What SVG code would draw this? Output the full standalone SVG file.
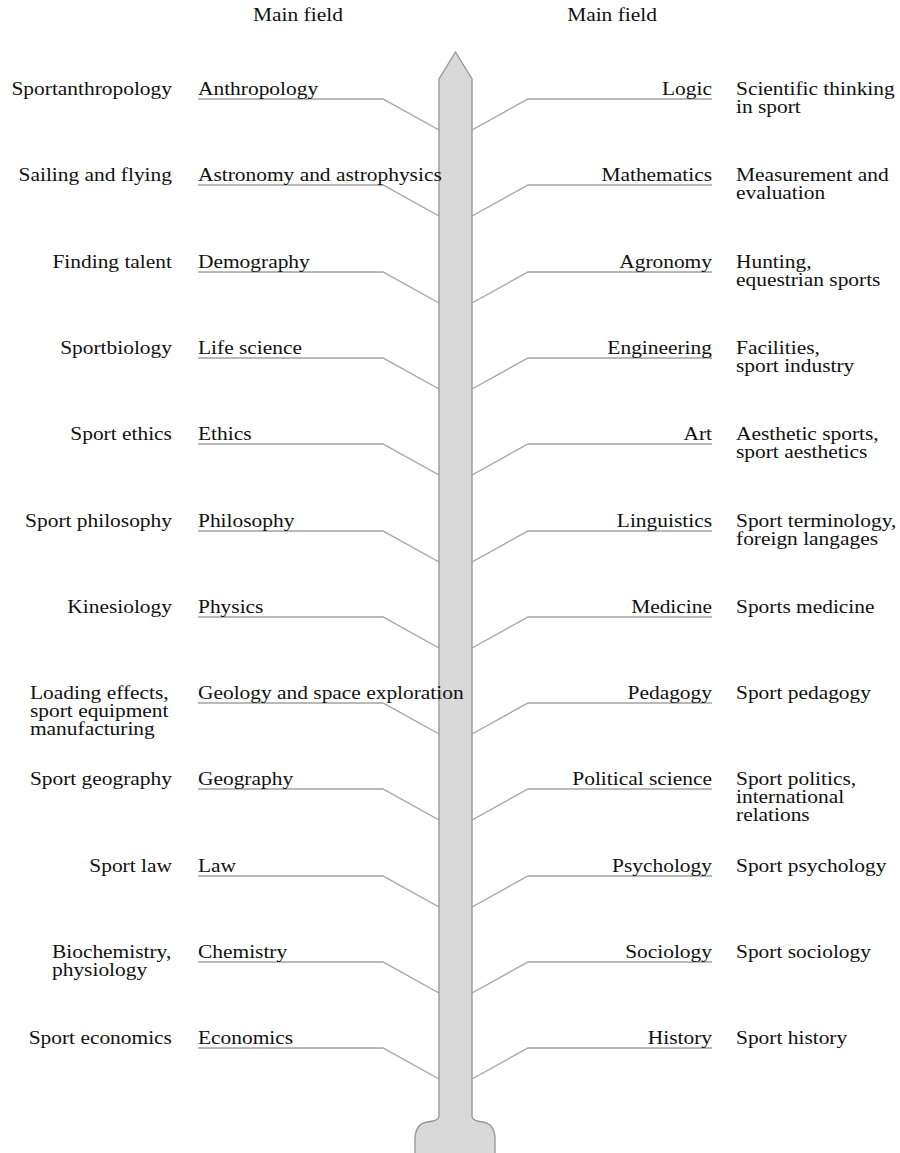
<svg xmlns="http://www.w3.org/2000/svg" width="900" height="1153" viewBox="0 0 900 1153">
  <style>
    .t { font-family: "Liberation Serif", "Times New Roman", serif; font-size: 18px; fill: #111; }
    .e { text-anchor: end; }
    .m { text-anchor: middle; }
    .c { fill: none; stroke: #a3a3a3; stroke-width: 1.4; }
    .shaft { fill: #d9d9d9; stroke: #9a9a9a; stroke-width: 1.4; }
  </style>
  <rect width="900" height="1153" fill="#fff"/>

  <!-- connectors: underline then slanted run into the shaft -->
  <g id="connectors" class="c">
    <path d="M198,99 H383 L439,130"/>
    <path d="M198,185 H383 L439,216"/>
    <path d="M198,272 H383 L439,303"/>
    <path d="M198,358 H383 L439,389"/>
    <path d="M198,444 H383 L439,475"/>
    <path d="M198,531 H383 L439,562"/>
    <path d="M198,617 H383 L439,648"/>
    <path d="M198,703 H383 L439,734"/>
    <path d="M198,789 H383 L439,820"/>
    <path d="M198,876 H383 L439,907"/>
    <path d="M198,962 H383 L439,993"/>
    <path d="M198,1048 H383 L439,1079"/>
    <path d="M712,99 H528 L472,130"/>
    <path d="M712,185 H528 L472,216"/>
    <path d="M712,272 H528 L472,303"/>
    <path d="M712,358 H528 L472,389"/>
    <path d="M712,444 H528 L472,475"/>
    <path d="M712,531 H528 L472,562"/>
    <path d="M712,617 H528 L472,648"/>
    <path d="M712,703 H528 L472,734"/>
    <path d="M712,789 H528 L472,820"/>
    <path d="M712,876 H528 L472,907"/>
    <path d="M712,962 H528 L472,993"/>
    <path d="M712,1048 H528 L472,1079"/>
  </g>

  <!-- central shaft with pointed top and flared base -->
  <g id="shaft">
    <path class="shaft" d="M439,1116 L439,79 L455.5,52 L472,79 L472,1116 Q472,1121 483,1122 Q495,1124 495,1140 L495,1156 L415,1156 L415,1140 Q415,1124 427,1122 Q439,1121 439,1116 Z"/>
  </g>

  <!-- labels (set slightly wide) -->
  <g transform="scale(1.19 1)" class="t">
    <g id="header">
      <text class="t m" x="250.4" y="21">Main field</text>
      <text class="t m" x="514.3" y="21">Main field</text>
    </g>

    <g id="row-anthropology">
      <text class="t e" x="144.5" y="95">Sportanthropology</text>
      <text class="t" x="166.4" y="95">Anthropology</text>
    </g>
    <g id="row-astronomy">
      <text class="t e" x="144.5" y="181">Sailing and flying</text>
      <text class="t" x="166.4" y="181">Astronomy and astrophysics</text>
    </g>
    <g id="row-demography">
      <text class="t e" x="144.5" y="268">Finding talent</text>
      <text class="t" x="166.4" y="268">Demography</text>
    </g>
    <g id="row-life-science">
      <text class="t e" x="144.5" y="354">Sportbiology</text>
      <text class="t" x="166.4" y="354">Life science</text>
    </g>
    <g id="row-ethics">
      <text class="t e" x="144.5" y="440">Sport ethics</text>
      <text class="t" x="166.4" y="440">Ethics</text>
    </g>
    <g id="row-philosophy">
      <text class="t e" x="144.5" y="527">Sport philosophy</text>
      <text class="t" x="166.4" y="527">Philosophy</text>
    </g>
    <g id="row-physics">
      <text class="t e" x="144.5" y="613">Kinesiology</text>
      <text class="t" x="166.4" y="613">Physics</text>
    </g>
    <g id="row-geology">
      <text class="t" x="25.2" y="699">Loading effects,</text>
      <text class="t" x="25.2" y="717">sport equipment</text>
      <text class="t" x="25.2" y="735">manufacturing</text>
      <text class="t" x="166.4" y="699">Geology and space exploration</text>
    </g>
    <g id="row-geography">
      <text class="t e" x="144.5" y="785">Sport geography</text>
      <text class="t" x="166.4" y="785">Geography</text>
    </g>
    <g id="row-law">
      <text class="t e" x="144.5" y="872">Sport law</text>
      <text class="t" x="166.4" y="872">Law</text>
    </g>
    <g id="row-chemistry">
      <text class="t" x="43.7" y="958">Biochemistry,</text>
      <text class="t" x="43.7" y="976">physiology</text>
      <text class="t" x="166.4" y="958">Chemistry</text>
    </g>
    <g id="row-economics">
      <text class="t e" x="144.5" y="1044">Sport economics</text>
      <text class="t" x="166.4" y="1044">Economics</text>
    </g>

    <g id="row-logic">
      <text class="t e" x="598.3" y="95">Logic</text>
      <text class="t" x="618.5" y="95">Scientific thinking</text>
      <text class="t" x="618.5" y="113">in sport</text>
    </g>
    <g id="row-mathematics">
      <text class="t e" x="598.3" y="181">Mathematics</text>
      <text class="t" x="618.5" y="181">Measurement and</text>
      <text class="t" x="618.5" y="199">evaluation</text>
    </g>
    <g id="row-agronomy">
      <text class="t e" x="598.3" y="268">Agronomy</text>
      <text class="t" x="618.5" y="268">Hunting,</text>
      <text class="t" x="618.5" y="286">equestrian sports</text>
    </g>
    <g id="row-engineering">
      <text class="t e" x="598.3" y="354">Engineering</text>
      <text class="t" x="618.5" y="354">Facilities,</text>
      <text class="t" x="618.5" y="372">sport industry</text>
    </g>
    <g id="row-art">
      <text class="t e" x="598.3" y="440">Art</text>
      <text class="t" x="618.5" y="440">Aesthetic sports,</text>
      <text class="t" x="618.5" y="458">sport aesthetics</text>
    </g>
    <g id="row-linguistics">
      <text class="t e" x="598.3" y="527">Linguistics</text>
      <text class="t" x="618.5" y="527">Sport terminology,</text>
      <text class="t" x="618.5" y="545">foreign langages</text>
    </g>
    <g id="row-medicine">
      <text class="t e" x="598.3" y="613">Medicine</text>
      <text class="t" x="618.5" y="613">Sports medicine</text>
    </g>
    <g id="row-pedagogy">
      <text class="t e" x="598.3" y="699">Pedagogy</text>
      <text class="t" x="618.5" y="699">Sport pedagogy</text>
    </g>
    <g id="row-political-science">
      <text class="t e" x="598.3" y="785">Political science</text>
      <text class="t" x="618.5" y="785">Sport politics,</text>
      <text class="t" x="618.5" y="803">international</text>
      <text class="t" x="618.5" y="821">relations</text>
    </g>
    <g id="row-psychology">
      <text class="t e" x="598.3" y="872">Psychology</text>
      <text class="t" x="618.5" y="872">Sport psychology</text>
    </g>
    <g id="row-sociology">
      <text class="t e" x="598.3" y="958">Sociology</text>
      <text class="t" x="618.5" y="958">Sport sociology</text>
    </g>
    <g id="row-history">
      <text class="t e" x="598.3" y="1044">History</text>
      <text class="t" x="618.5" y="1044">Sport history</text>
    </g>
  </g>
</svg>
